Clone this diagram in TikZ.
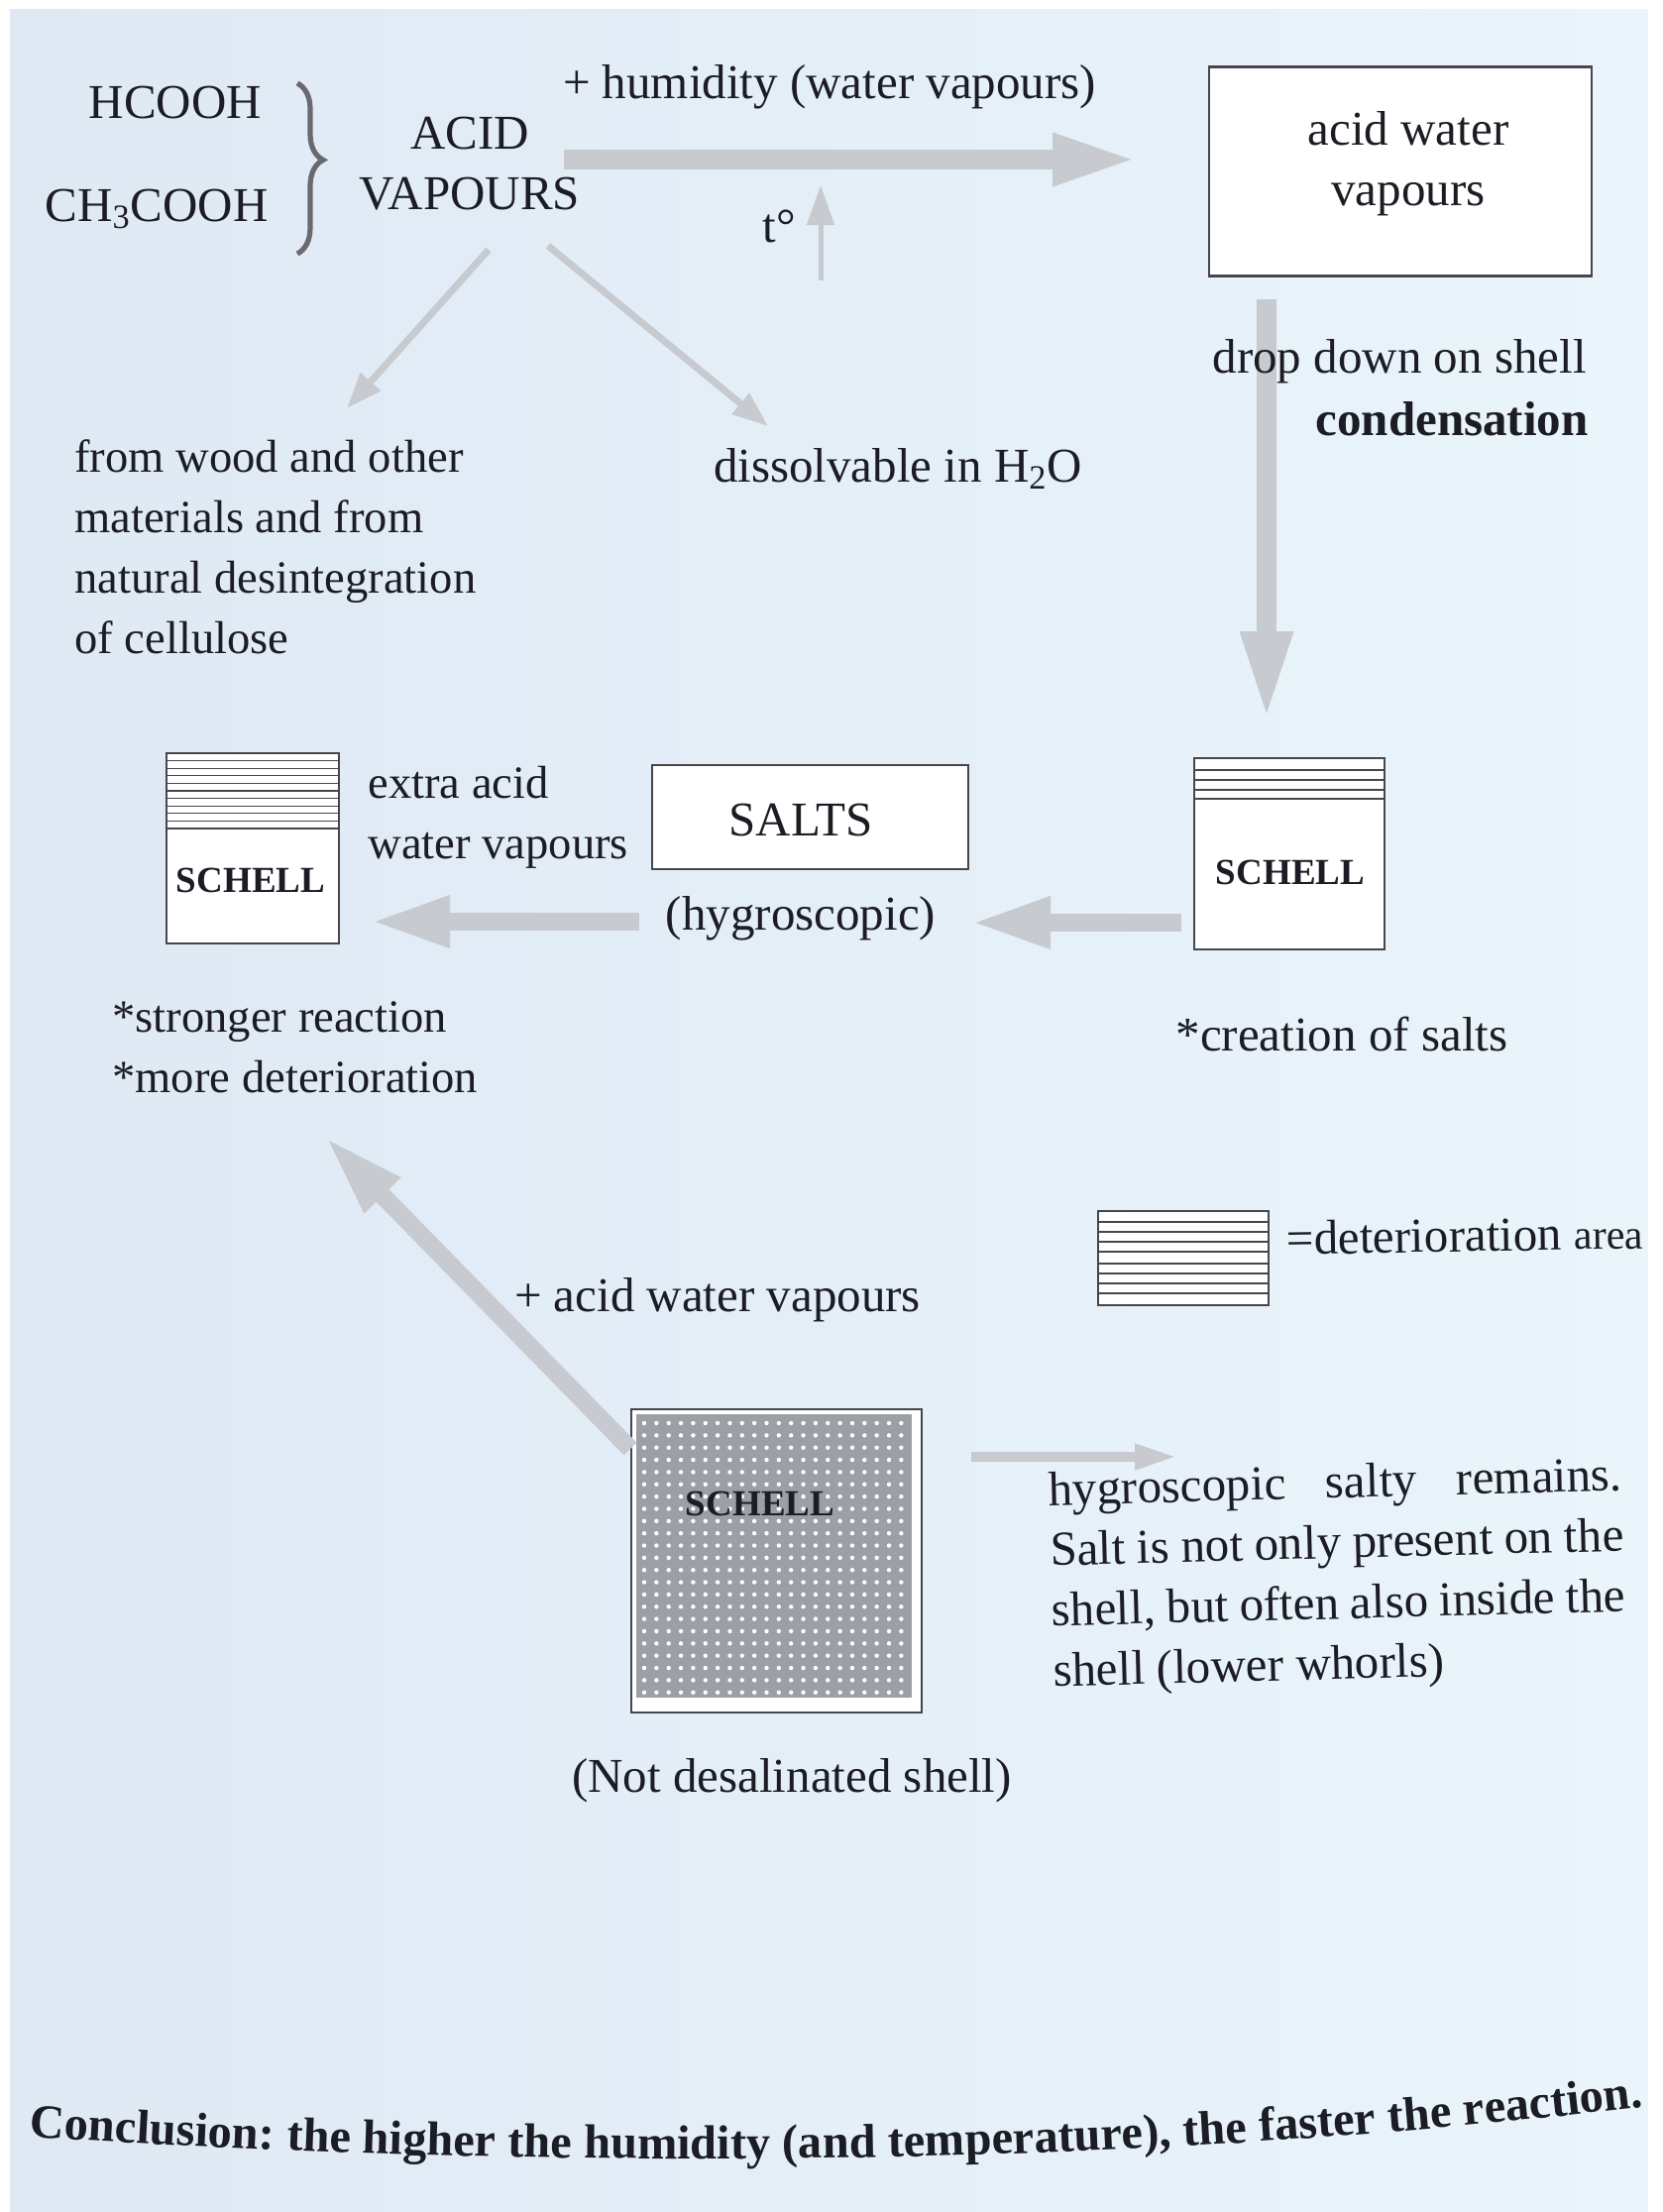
\documentclass[tikz,border=0pt]{standalone}
\usepackage{fontspec}
\setmainfont{Liberation Serif}
\usetikzlibrary{arrows.meta,decorations.pathreplacing,decorations.text}
\definecolor{bgL}{RGB}{223,233,244}
\definecolor{bgR}{RGB}{234,244,251}
\definecolor{arrowgray}{RGB}{199,202,207}
\definecolor{ink}{RGB}{28,28,36}
\definecolor{boxline}{RGB}{70,70,76}
\definecolor{bracegray}{RGB}{105,105,110}
\definecolor{dotgray}{RGB}{156,160,166}
\begin{document}
\begin{tikzpicture}[x=0.5pt,y=-0.5pt,
  every node/.style={inner sep=0pt, text=ink, font=\fontsize{24.5}{30.5}\selectfont},
  leftlbl/.style={font=\fontsize{23.3}{30.5}\selectfont},
  boldlbl/.style={font=\fontsize{24.5}{30.5}\selectfont\bfseries},
  shellname/.style={font=\fontsize{18.5}{22}\selectfont\bfseries},
  boxnode/.style={draw=boxline, line width=1.2pt, fill=white, rectangle},
  hatchline/.style={draw=boxline, line width=0.6pt},
  bigarrow/.style={draw=arrowgray, line width=10pt, -{Triangle[length=43pt,width=24pt]}},
  midarrow/.style={draw=arrowgray, line width=9pt, -{Triangle[length=40pt,width=24pt]}},
  thinarrow/.style={draw=arrowgray, line width=3.5pt, -{Triangle[length=18pt,width=13pt]}},
  smallarrow/.style={draw=arrowgray, line width=5pt, -{Triangle[length=21.5pt,width=12pt]}},
  tarrow/.style={draw=arrowgray, line width=2.5pt, -{Triangle[length=20pt,width=13.5pt]}}
]
\useasboundingbox (0,0) rectangle (1677,2232);
\fill[white] (0,0) rectangle (1677,2232);
\shade[left color=bgL, right color=bgR] (10,10) rectangle (1663,2232);

% ---------- top ----------
\node (hcooh) at (177,104) {HCOOH};
\node (chcooh) at (158,211) {CH\textsubscript{3}COOH};
\coordinate (braceTop) at (300,84);
\coordinate (braceBot) at (300,256);
\draw[decorate, decoration={brace, amplitude=13pt, aspect=0.45}, draw=bracegray, line width=2.6pt] (braceTop) -- (braceBot);
\node[align=center] (acid) at (474,165) {ACID\\VAPOURS};
\node (humid) at (837,88) {+ humidity (water vapours)};
\node (tdeg) at (786,228) {t°};

\node[boxnode, minimum width=193pt, minimum height=105.5pt] (awv) at (1413,173) {};
\node[align=center] (awvtext) at (1421,165) {acid water\\vapours};

\coordinate (a1s) at (569,161);
\coordinate (a1e) at (1148,161);
\draw[bigarrow] (a1s) -- (a1e);
\coordinate (t1s) at (828,283);
\coordinate (t1e) at (828,187);
\draw[tarrow] (t1s) -- (t1e);
\coordinate (d1s) at (493,252);
\coordinate (d1e) at (350,412);
\draw[thinarrow] (d1s) -- (d1e);
\coordinate (d2s) at (553,248);
\coordinate (d2e) at (775,430);
\draw[thinarrow] (d2s) -- (d2e);
\coordinate (dn1s) at (1278,302);
\coordinate (dn1e) at (1278,727);
\draw[bigarrow, -{Triangle[length=45pt,width=24pt]}] (dn1s) -- (dn1e);

\node[anchor=east] (drop) at (1601,365) {drop down on shell};
\node[anchor=east, boldlbl] (cond) at (1603,423) {condensation};

\node[anchor=west, align=left, leftlbl] (wood) at (75,552) {from wood and other\\materials and from\\natural desintegration\\of cellulose};
\node (dissolv) at (906,473) {dissolvable in H\textsubscript{2}O};

% ---------- middle ----------
\node[boxnode, minimum width=87pt, minimum height=96pt] (lsh) at (255,856) {};
\foreach \k in {1,...,10} \draw[hatchline] (168,{760+7.6*\k}) -- (342,{760+7.6*\k});
\node[shellname] (lshtext) at (253,888) {SCHELL};
\node[anchor=west, align=left, leftlbl] (extra) at (371,825) {extra acid\\water vapours};

\node[boxnode, minimum width=159.5pt, minimum height=52.5pt] (salts) at (817.5,824.5) {};
\node (saltstext) at (808,828) {SALTS};
\node (hygro) at (808,927) {(hygroscopic)};

\node[boxnode, minimum width=96pt, minimum height=96.5pt] (rsh) at (1301,861.5) {};
\foreach \yy in {777,787,797,806} \draw[hatchline] (1205,\yy) -- (1397,\yy);
\node[shellname] (rshtext) at (1302,880) {SCHELL};

\coordinate (m1s) at (645,930);
\coordinate (m1e) at (374,930);
\draw[midarrow] (m1s) -- (m1e);
\coordinate (m2s) at (1192,931);
\coordinate (m2e) at (980,931);
\draw[midarrow] (m2s) -- (m2e);

\node[anchor=west, align=left, leftlbl] (strong) at (113,1057) {*stronger reaction\\*more deterioration};
\node (creation) at (1354,1043) {*creation of salts};

% ---------- legend ----------
\node[boxnode, minimum width=86pt, minimum height=47.5pt] (legend) at (1194,1269.5) {};
\foreach \yy in {1233,1243,1253,1263,1275,1285,1295,1305} \draw[hatchline] (1108,\yy) -- (1280,\yy);
\node[anchor=base west, rotate=1] (legtext) at (1298,1266) {=deterioration {\fontsize{21}{24}\selectfont area}};

% ---------- bottom ----------
\node (plusacid) at (724,1312) {+ acid water vapours};
\node[boxnode, minimum width=146.5pt, minimum height=153pt] (dshell) at (783.5,1575) {};
\fill[dotgray] (642,1427) rectangle (920,1713);
\foreach \i in {0,...,21} \foreach \j in {0,...,22} \fill[white] ({650+12.35*\i},{1436+12.35*\j}) circle (1.1pt);
\node[shellname] (dshelltext) at (767,1517) {SCHELL};

\coordinate (b1s) at (636,1462);
\coordinate (b1e) at (328,1147);
\draw[midarrow, -{Triangle[length=41.5pt,width=23pt]}] (b1s) -- (b1e);
\coordinate (b2s) at (980,1470);
\coordinate (b2e) at (1188,1470);
\draw[smallarrow] (b2s) -- (b2e);

\node[anchor=base west, rotate=1.5] (para) at (1058,1519) {\parbox[t]{289.5pt}{\fontsize{24.5}{30.5}\selectfont hygroscopic salty remains.\linebreak Salt is not only present on the\linebreak shell, but often also inside the\linebreak shell (lower whorls)}};
\node (notdesal) at (799,1797) {(Not desalinated shell)};

% ---------- conclusion ----------
\path[decorate, decoration={text along path, text align=center,
  text={|\fontsize{24.2}{28}\selectfont\bfseries\color{ink}|Conclusion: the higher the humidity (and temperature), the faster the reaction.}}]
  (14,2155) .. controls (500,2187) and (1100,2194) .. (1672,2124);
\end{tikzpicture}
\end{document}
